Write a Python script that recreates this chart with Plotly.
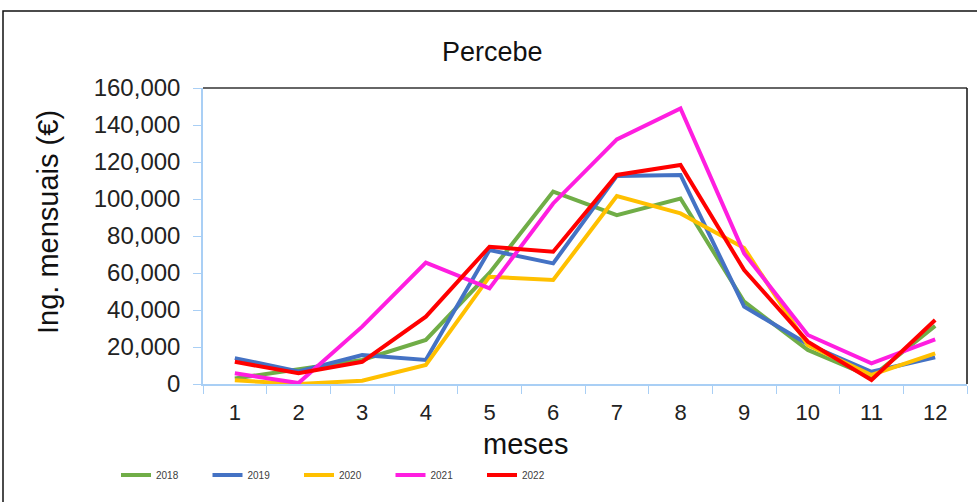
import plotly.graph_objects as go

months = ["1", "2", "3", "4", "5", "6", "7", "8", "9", "10", "11", "12"]

ing_2018 = [3000, 8000, 13000, 23800, 60000, 104000, 91300, 100300, 44500, 18400, 3800, 31400]
ing_2019 = [14000, 6800, 15700, 13000, 72400, 65200, 112500, 113000, 41800, 21500, 6600, 14400]
ing_2020 = [2000, 0, 1800, 10300, 58000, 56200, 101600, 92200, 73500, 21000, 4900, 16600]
ing_2021 = [5800, 500, 31000, 65600, 51700, 97600, 132200, 149000, 70600, 26500, 11200, 24100]
ing_2022 = [12000, 5800, 12000, 36400, 74200, 71500, 113000, 118400, 61600, 22900, 2200, 34600]

series = [
    ("2018", ing_2018, "#70ad47"),
    ("2019", ing_2019, "#4472c4"),
    ("2020", ing_2020, "#ffc000"),
    ("2021", ing_2021, "#ff1ee0"),
    ("2022", ing_2022, "#ff0000"),
]

FONT = "Liberation Sans, Arial, sans-serif"
AXIS_BLUE = "#a9cff5"

fig = go.Figure()
for name, vals, color in series:
    fig.add_trace(go.Scatter(
        x=months, y=vals, name=name, mode="lines",
        line=dict(color=color, width=4),
    ))

W, H = 977, 502
L, R, T, B = 203, 10, 88, 118
pw, ph = W - L - R, H - T - B

def px_x(x):
    return (x - L) / pw

def px_y(y):
    return 1 - (y - T) / ph

fig.update_layout(
    width=W, height=H,
    margin=dict(l=L, r=R, t=T, b=B),
    paper_bgcolor="white", plot_bgcolor="white",
    font=dict(family=FONT, color="#222222"),
    showlegend=True,
    legend=dict(
        orientation="h", x=px_x(116), y=px_y(475), xanchor="left", yanchor="middle",
        font=dict(size=10, color="#404040"),
        entrywidth=46.5, entrywidthmode="pixels",
        itemwidth=30, tracegroupgap=0,
    ),
    xaxis=dict(
        type="category", tickson="boundaries",
        showline=True, linecolor=AXIS_BLUE, linewidth=1.5,
        ticks="outside", ticklen=8, tickcolor=AXIS_BLUE,
        tickfont=dict(size=22, family=FONT, color="#222222"),
        ticklabelstandoff=8,
        showgrid=False, zeroline=False,
        range=[-0.5, 11.5],
    ),
    yaxis=dict(
        range=[0, 160000], dtick=20000, tickformat=",d",
        showline=True, linecolor=AXIS_BLUE, linewidth=1.5,
        ticks="outside", ticklen=8, tickcolor=AXIS_BLUE,
        tickfont=dict(size=24, family=FONT, color="#222222"),
        ticklabelstandoff=8,
        showgrid=False, zeroline=False,
    ),
    annotations=[
        dict(text="Percebe", xref="paper", yref="paper", x=px_x(492), y=px_y(52),
             showarrow=False, font=dict(size=27, family=FONT, color="#111111"),
             xanchor="center", yanchor="middle"),
        dict(text="meses", xref="paper", yref="paper", x=px_x(525), y=px_y(444),
             showarrow=False, font=dict(size=29, family=FONT, color="#111111"),
             xanchor="center", yanchor="middle"),
        dict(text="Ing. mensuais (€)", xref="paper", yref="paper", x=px_x(48), y=px_y(222),
             showarrow=False, textangle=-90, font=dict(size=29, family=FONT, color="#111111"),
             xanchor="center", yanchor="middle"),
    ],
    shapes=[
        # chart frame
        dict(type="rect", xref="paper", yref="paper",
             x0=px_x(3), x1=px_x(990), y0=px_y(520), y1=px_y(11),
             line=dict(color="#111111", width=1.5), fillcolor="rgba(0,0,0,0)", layer="below"),
        # plot-area border on top and right
        dict(type="line", xref="paper", yref="paper", x0=0, x1=1, y0=1, y1=1,
             line=dict(color="#333333", width=1.5)),
        dict(type="line", xref="paper", yref="paper", x0=1, x1=1, y0=0, y1=1,
             line=dict(color="#111111", width=1.5)),
    ],
)

fig.write_html("out.html")
